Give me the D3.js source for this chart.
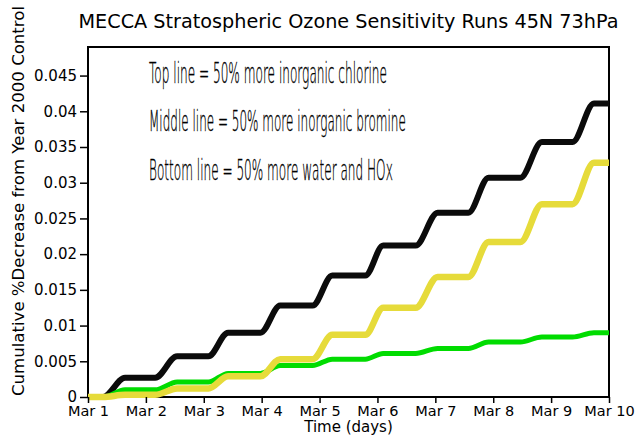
<!DOCTYPE html>
<html>
<head>
<meta charset="utf-8">
<script src="https://cdn.jsdelivr.net/npm/d3@7/dist/d3.min.js"></script>
<style>
  html, body { margin: 0; padding: 0; background: #fff; }
  svg { display: block; }
  text { font-family: "DejaVu Sans", sans-serif; fill: #000; }
</style>
</head>
<body>
<div id="chart"></div>
<script>
// ---- data ----
const xTickValues = [0, 1, 2, 3, 4, 5, 6, 7, 8, 9];
const xTickLabels = ["Mar 1", "Mar 2", "Mar 3", "Mar 4", "Mar 5", "Mar 6", "Mar 7", "Mar 8", "Mar 9", "Mar 10"];
const yTickValues = [0, 0.005, 0.01, 0.015, 0.02, 0.025, 0.03, 0.035, 0.04, 0.045];
const yTickLabels = ["0", "0.005", "0.01", "0.015", "0.02", "0.025", "0.03", "0.035", "0.04", "0.045"];

// time in axis units
const times = [0, 0.26, 0.64, 1.16, 1.54, 2.08, 2.42, 2.98, 3.32, 3.88, 4.22, 4.79, 5.10, 5.66, 6.04, 6.57, 6.92, 7.47, 7.84, 8.37, 8.74, 9.0];
const chlorine = [0, 0, 0.0027, 0.0027, 0.0057, 0.0057, 0.0090, 0.0090, 0.0128, 0.0128, 0.0170, 0.0170, 0.0212, 0.0212, 0.0258, 0.0258, 0.0307, 0.0307, 0.0357, 0.0357, 0.0411, 0.0411];
const bromine  = [0, 0, 0.0003, 0.0003, 0.0012, 0.0012, 0.0029, 0.0029, 0.0053, 0.0053, 0.0087, 0.0087, 0.0125, 0.0125, 0.0168, 0.0168, 0.0217, 0.0217, 0.0270, 0.0270, 0.0328, 0.0328];
const waterHOx = [0, 0, 0.0010, 0.0010, 0.0021, 0.0021, 0.0033, 0.0033, 0.0044, 0.0044, 0.0053, 0.0053, 0.0061, 0.0061, 0.0068, 0.0068, 0.0077, 0.0077, 0.0084, 0.0084, 0.0090, 0.0090];

const titleText = "MECCA Stratospheric Ozone Sensitivity Runs 45N 73hPa";
const xLabel = "Time (days)";
const yLabel = "Cumulative %Decrease from Year 2000 Control";
const notes = ["Top line = 50% more inorganic chlorine", "Middle line = 50% more inorganic bromine", "Bottom line = 50% more water and HOx"];

// ---- layout ----
const W = 638, H = 435;
const m = { left: 88, right: 29, top: 47, bottom: 38 };
const iw = W - m.left - m.right, ih = H - m.top - m.bottom;

const svg = d3.select("#chart").append("svg").attr("width", W).attr("height", H);

const x = d3.scaleLinear().domain([0, 9]).range([m.left, m.left + iw]);
const y = d3.scaleLinear().domain([0, 0.049]).range([m.top + ih, m.top]);

// frame
svg.append("rect")
  .attr("x", m.left).attr("y", m.top).attr("width", iw).attr("height", ih)
  .attr("fill", "none").attr("stroke", "#000").attr("stroke-width", 2);

// lines
const line = d3.line().x(d => x(d[0])).y(d => y(d[1])).curve(d3.curveMonotoneX);
const series = [
  { vals: chlorine, color: "#0b0b0b", w: 6 },
  { vals: waterHOx, color: "#00dc00", w: 5 },
  { vals: bromine,  color: "#e6db3a", w: 6.5 }
];
series.forEach(s => {
  svg.append("path")
    .datum(times.map((t, i) => [t, s.vals[i]]))
    .attr("d", line)
    .attr("fill", "none")
    .attr("stroke", s.color)
    .attr("stroke-width", s.w)
    .attr("stroke-linejoin", "round");
});

// axes
const xAxis = d3.axisBottom(x).tickValues(xTickValues)
  .tickFormat((d, i) => xTickLabels[i]).tickSize(6).tickPadding(3);
const gx = svg.append("g").attr("transform", `translate(0,${m.top + ih})`).call(xAxis);
gx.select(".domain").remove();
gx.selectAll("line").attr("stroke", "#000").attr("stroke-width", 1.5);
gx.selectAll("text").attr("font-size", 14.5).attr("font-family", "DejaVu Sans");

const yAxis = d3.axisLeft(y).tickValues(yTickValues)
  .tickFormat((d, i) => yTickLabels[i]).tickSize(8).tickPadding(3);
const gy = svg.append("g").attr("transform", `translate(${m.left},0)`).call(yAxis);
gy.select(".domain").remove();
gy.selectAll("line").attr("stroke", "#000").attr("stroke-width", 1.5);
gy.selectAll("text").attr("font-size", 15).attr("font-family", "DejaVu Sans");

// title
svg.append("text")
  .attr("x", m.left + iw / 2).attr("y", 28)
  .attr("text-anchor", "middle")
  .attr("font-size", 19)
  .attr("textLength", 540).attr("lengthAdjust", "spacingAndGlyphs")
  .text(titleText);

// x label
svg.append("text")
  .attr("x", m.left + iw / 2).attr("y", 432)
  .attr("text-anchor", "middle")
  .attr("font-size", 15)
  .text(xLabel);

// y label
svg.append("text")
  .attr("transform", "translate(24,201) rotate(-90)")
  .attr("text-anchor", "middle")
  .attr("font-size", 15)
  .attr("textLength", 390).attr("lengthAdjust", "spacingAndGlyphs")
  .text(yLabel);

// annotations: tall, narrow, thin lettering, horizontally scaled to the widths in the reference
const noteY = [83, 131, 180];
const noteLen = [238, 257, 244];
notes.forEach((t, i) => {
  const g = svg.append("g");
  const tx = g.append("text")
    .attr("x", 0).attr("y", 0)
    .attr("font-size", 28)
    .attr("font-weight", 200)
    .attr("stroke", "#000")
    .attr("stroke-width", 0.35)
    .text(t);
  const natural = tx.node().getComputedTextLength();
  g.attr("transform", `translate(149,${noteY[i]}) scale(${noteLen[i] / natural},1)`);
});
</script>
</body>
</html>
